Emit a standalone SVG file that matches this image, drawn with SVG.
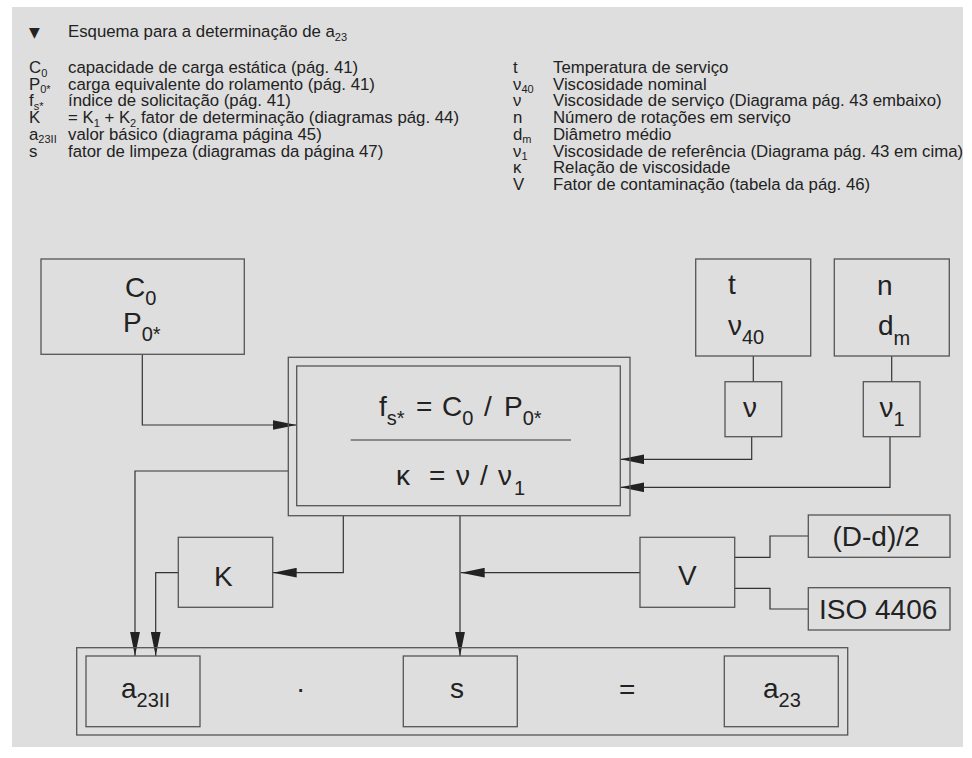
<svg xmlns="http://www.w3.org/2000/svg" width="972" height="758" viewBox="0 0 972 758">
<defs>
<style>
.hd{font-family:"Liberation Sans",Arial,sans-serif;font-size:16.8px;fill:#222}
.hs{font-size:11px}
.big{font-family:"Liberation Sans",Arial,sans-serif;font-size:28px;fill:#222}
.sub{font-size:20px}
.box{fill:none;stroke:#555;stroke-width:1.3}
.con{fill:none;stroke:#333;stroke-width:1.2}
.arr{fill:none;stroke:#333;stroke-width:1.2;marker-end:url(#ah)}
</style>
<marker id="ah" markerUnits="userSpaceOnUse" markerWidth="24" markerHeight="10" viewBox="0 0 22 9" refX="22" refY="4.5" orient="auto">
<path d="M0,0 L22,4.5 L0,9 z" fill="#222"/>
</marker>
</defs>
<rect x="0" y="0" width="972" height="758" fill="#ffffff"/>
<rect x="12" y="7" width="951" height="740" fill="#dedede"/>

<g id="header">
<text x="29" y="37" style="font-family:'DejaVu Sans',sans-serif;font-size:14px;fill:#222">▼</text>
<text class="hd" x="68" y="37">Esquema para a determinação de a<tspan class="hs" dy="3.5">23</tspan></text>

<text class="hd" x="29" y="73">C<tspan class="hs" dy="3.5">0</tspan></text>
<text class="hd" x="68" y="73">capacidade de carga estática (pág. 41)</text>
<text class="hd" x="29" y="89.7">P<tspan class="hs" dy="3.5">0*</tspan></text>
<text class="hd" x="68" y="89.7">carga equivalente do rolamento (pág. 41)</text>
<text class="hd" x="29" y="106.4">f<tspan class="hs" dy="3.5">s*</tspan></text>
<text class="hd" x="68" y="106.4">índice de solicitação (pág. 41)</text>
<text class="hd" x="29" y="123.1">K</text>
<text class="hd" x="68" y="123.1">= K<tspan class="hs" dy="3.5">1</tspan><tspan dy="-3.5"> + K</tspan><tspan class="hs" dy="3.5">2</tspan><tspan dy="-3.5"> fator de determinação (diagramas pág. 44)</tspan></text>
<text class="hd" x="29" y="139.8">a<tspan class="hs" dy="3.5">23II</tspan></text>
<text class="hd" x="68" y="139.8">valor básico (diagrama página 45)</text>
<text class="hd" x="29" y="156.5">s</text>
<text class="hd" x="68" y="156.5">fator de limpeza (diagramas da página 47)</text>

<text class="hd" x="513" y="73">t</text>
<text class="hd" x="553" y="73">Temperatura de serviço</text>
<text class="hd" x="513" y="89.7">ν<tspan class="hs" dy="3.5">40</tspan></text>
<text class="hd" x="553" y="89.7">Viscosidade nominal</text>
<text class="hd" x="513" y="106.4">ν</text>
<text class="hd" x="553" y="106.4">Viscosidade de serviço (Diagrama pág. 43 embaixo)</text>
<text class="hd" x="513" y="123.1">n</text>
<text class="hd" x="553" y="123.1">Número de rotações em serviço</text>
<text class="hd" x="513" y="139.8">d<tspan class="hs" dy="3.5">m</tspan></text>
<text class="hd" x="553" y="139.8">Diâmetro médio</text>
<text class="hd" x="513" y="156.5">ν<tspan class="hs" dy="3.5">1</tspan></text>
<text class="hd" x="553" y="156.5">Viscosidade de referência (Diagrama pág. 43 em cima)</text>
<text class="hd" x="513" y="173.2">κ</text>
<text class="hd" x="553" y="173.2">Relação de viscosidade</text>
<text class="hd" x="513" y="189.9">V</text>
<text class="hd" x="553" y="189.9">Fator de contaminação (tabela da pág. 46)</text>
</g>

<g id="connectors">
<polyline class="arr" points="142.3,354.3 142.3,425 296.7,425"/>
<polyline class="arr" points="288.3,471 135,471 135,656"/>
<polyline class="arr" points="343.3,515.7 343.3,572.7 272.7,572.7"/>
<polyline class="arr" points="178.3,572.7 155.7,572.7 155.7,656"/>
<polyline class="arr" points="460,515.7 460,656"/>
<polyline class="arr" points="640,572.7 460.7,572.7"/>
<polyline class="con" points="753.3,356 753.3,381.7"/>
<polyline class="con" points="891.7,356 891.7,381.7"/>
<polyline class="arr" points="751.7,436.7 751.7,459.3 620.3,459.3"/>
<polyline class="arr" points="890,436.7 890,487.3 620.3,487.3"/>
<polyline class="con" points="734.7,557.3 770,557.3 770,536 808.3,536"/>
<polyline class="con" points="734.7,588.3 770,588.3 770,609 808.3,609"/>
</g>

<g id="node-C0P0">
<rect class="box" x="41" y="259" width="203.3" height="95.3"/>
<text class="big" x="125" y="297">C<tspan class="sub" dy="8">0</tspan></text>
<text class="big" x="123" y="332">P<tspan class="sub" dy="9">0*</tspan></text>
</g>

<g id="node-formula">
<rect class="box" x="288.3" y="357.3" width="341.7" height="158.4"/>
<rect class="box" x="296.7" y="366" width="323.6" height="139.7"/>
<text class="big" x="379" y="415.7">f<tspan class="sub" dy="9">s*</tspan><tspan x="416" dy="-9">=</tspan><tspan x="442">C</tspan><tspan class="sub" dy="9">0</tspan><tspan x="484" dy="-9">/</tspan><tspan x="504">P</tspan><tspan class="sub" dy="9">0*</tspan></text>
<line x1="350.7" y1="440" x2="571" y2="440" stroke="#333" stroke-width="1.2"/>
<text class="big" x="396" y="485">κ<tspan x="429">=</tspan><tspan x="456">ν</tspan><tspan x="480">/</tspan><tspan x="498">ν</tspan><tspan class="sub" x="514" dy="10">1</tspan></text>
</g>

<g id="node-t">
<rect class="box" x="695.7" y="259" width="115" height="97"/>
<text class="big" x="728" y="294">t</text>
<text class="big" x="728" y="335">ν<tspan class="sub" dy="9">40</tspan></text>
</g>

<g id="node-n">
<rect class="box" x="834.3" y="259" width="115" height="97"/>
<text class="big" x="877" y="295">n</text>
<text class="big" x="878" y="335">d<tspan class="sub" dy="10">m</tspan></text>
</g>

<g id="node-nu">
<rect class="box" x="725" y="381.7" width="56.7" height="55"/>
<text class="big" x="743" y="417">ν</text>
</g>

<g id="node-nu1">
<rect class="box" x="863.3" y="381.7" width="56.7" height="55"/>
<text class="big" x="879.5" y="417">ν<tspan class="sub" dy="9">1</tspan></text>
</g>

<g id="node-K">
<rect class="box" x="178.3" y="537.3" width="94.4" height="70"/>
<text class="big" x="214" y="586">K</text>
</g>

<g id="node-V">
<rect class="box" x="640" y="537.3" width="94.7" height="70"/>
<text class="big" x="678" y="585">V</text>
</g>

<g id="node-Dd">
<rect class="box" x="808.3" y="515" width="141.7" height="42.3"/>
<text class="big" x="832.5" y="546">(D-d)/2</text>
</g>

<g id="node-ISO">
<rect class="box" x="808.3" y="587.7" width="141.7" height="42.3"/>
<text class="big" x="819" y="618.5">ISO 4406</text>
</g>

<g id="node-result">
<rect class="box" x="76.7" y="647.7" width="771" height="87.3"/>
<text class="big" x="300.7" y="698" text-anchor="middle">·</text>
<text class="big" x="619" y="699">=</text>
</g>

<g id="node-a23II">
<rect class="box" x="86" y="656" width="114" height="70.7"/>
<text class="big" x="121" y="698">a<tspan class="sub" dy="9">23II</tspan></text>
</g>

<g id="node-s">
<rect class="box" x="403.3" y="656" width="114" height="70.7"/>
<text class="big" x="450" y="698">s</text>
</g>

<g id="node-a23">
<rect class="box" x="724.3" y="656" width="114" height="70.7"/>
<text class="big" x="763" y="698">a<tspan class="sub" dy="9">23</tspan></text>
</g>
</svg>
